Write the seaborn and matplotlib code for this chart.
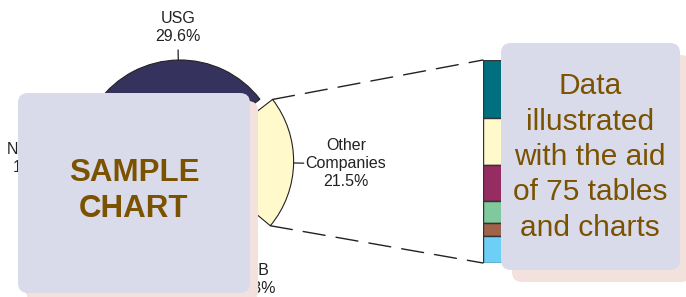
import matplotlib
matplotlib.use('Agg')
import matplotlib.pyplot as plt
from matplotlib.patches import FancyBboxPatch, ConnectionPatch
import numpy as np
import seaborn as sns

# pie slices (counter-clockwise, starting with the exploded "Other" slice)
companies = ['Other\nCompanies', 'USG', 'National', 'Lafarge', 'American', 'BPB']
shares = [21.5, 29.6, 19.3, 10.1, 9.2, 10.3]
pie_colors = ['#FFF9CC', '#35335E', '#5B5EA6', '#B58AC8', '#4F8FBF', '#D0202E']

# breakdown of "Other Companies" (top to bottom of the bar)
other_parts = ['A', 'B', 'C', 'D', 'E', 'F']
other_shares = [6.1, 5.0, 3.8, 2.4, 1.3, 2.9]
other_colors = ['#00707E', '#FFF9CC', '#962D62', '#80C99C', '#A0634A', '#6DCFF6']

sns.set_theme(style='white')
plt.rcParams['font.family'] = ['Liberation Sans', 'DejaVu Sans']

W, H = 686, 297
fig = plt.figure(figsize=(W / 100, H / 100), dpi=100)
ax = fig.add_axes([0, 0, 1, 1])
ax.axis('off')

R = 101
cx, cy = 180, 136
explode = [0.125 * R] + [0] * (len(shares) - 1)
wedges, _ = ax.pie(shares, colors=pie_colors, startangle=-39.7, counterclock=True,
                   center=(cx, cy), radius=R, explode=explode,
                   wedgeprops=dict(edgecolor='#222222', linewidth=0.8))
ax.set_xlim(0, W)
ax.set_ylim(0, H)
ax.set_aspect('auto')

# label distance (in radii); hidden slices kept inside the figure
label_dist = [1.52, 1.32, 1.43, 1.2, 1.2, 1.38]
for w, name, val, d in zip(wedges, companies, shares, label_dist):
    m = np.deg2rad((w.theta1 + w.theta2) / 2)
    x0, y0 = w.center
    tx, ty = x0 + d * w.r * np.cos(m), y0 + d * w.r * np.sin(m)
    ax.text(tx, ty, f'{name}\n{val}%', ha='center', va='center', fontsize=11.5,
            color='#222222', linespacing=1.25)

# leader ticks
for i in [0, 1]:
    w = wedges[i]
    m = np.deg2rad((w.theta1 + w.theta2) / 2)
    x0, y0 = w.center
    ax.plot([x0 + w.r * np.cos(m), x0 + 1.1 * w.r * np.cos(m)],
            [y0 + w.r * np.sin(m), y0 + 1.1 * w.r * np.sin(m)],
            color='#222222', lw=0.9)

# stacked bar for the other companies
bx = fig.add_axes([483 / W, 34 / H, 32 / W, 203 / H])
total = sum(other_shares)
bottoms = total - np.cumsum(other_shares)
bx.bar([0] * len(other_shares), other_shares, bottom=bottoms, width=1,
       color=other_colors, edgecolor='#333333', linewidth=1)
bx.set_xlim(-0.5, 0.5)
bx.set_ylim(0, total)
bx.axis('off')

# dashed connector lines
w = wedges[0]
x0, y0 = w.center
for ang, yb in [(w.theta2, total), (w.theta1, 0)]:
    a = np.deg2rad(ang)
    con = ConnectionPatch(xyA=(x0 + w.r * np.cos(a), y0 + w.r * np.sin(a)), coordsA=ax.transData,
                          xyB=(-0.5, yb), coordsB=bx.transData,
                          color='#222222', lw=1.0, linestyle=(0, (16, 8)))
    fig.add_artist(con)

# overlay boxes
ov = fig.add_axes([0, 0, 1, 1])
ov.set_xlim(0, W)
ov.set_ylim(0, H)
ov.axis('off')
ov.patch.set_alpha(0)

def box(x, y, w, h, dx, dy):
    ov.add_patch(FancyBboxPatch((x + dx, y + dy), w, h, boxstyle='round,pad=0,rounding_size=10',
                                fc='#F2E1DC', ec='none'))
    ov.add_patch(FancyBboxPatch((x, y), w, h, boxstyle='round,pad=0,rounding_size=10',
                                fc='#D9DAEA', ec='none'))

box(18, 4, 232, 200, 8, -8)
box(501, 27, 179, 227, 11, -12)

ov.text(134, 106, 'SAMPLE\nCHART', ha='center', va='center', fontsize=22.5,
        fontweight='bold', color='#7A5200', linespacing=1.27)
ov.text(590, 140, 'Data\nillustrated\nwith the aid\nof 75 tables\nand charts', ha='center',
        va='center', fontsize=21.5, color='#7A5200', linespacing=1.33)

fig.savefig('out.png', dpi=100)
